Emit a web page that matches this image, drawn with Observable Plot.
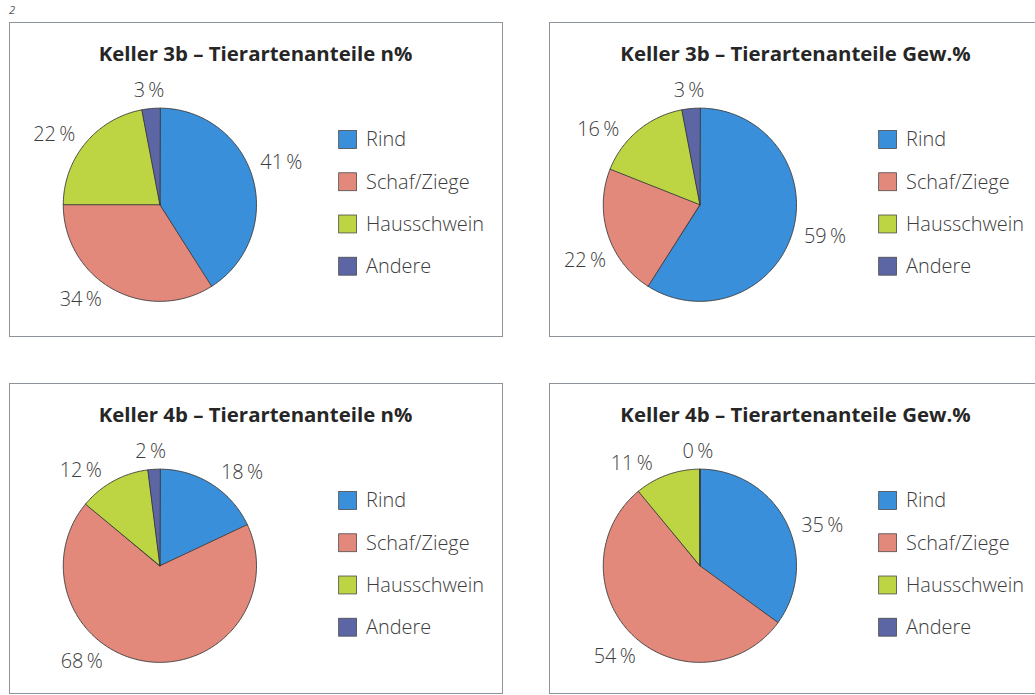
<!DOCTYPE html>
<html><head><meta charset="utf-8">
<script src="https://cdn.jsdelivr.net/npm/d3@7"></script>
<script src="https://cdn.jsdelivr.net/npm/@observablehq/plot@0.6"></script>
<style>
body{margin:0;background:#fff;}
#root{position:relative;width:1035px;height:695px;overflow:hidden;background:#fff;font-family:"Open Sans",sans-serif;}
.panel{position:absolute;box-sizing:border-box;border:1.5px solid #8d939a;background:#fff;}
.panel svg{display:block;}
.pagenum{position:absolute;left:9px;top:2px;font-size:11px;font-style:italic;color:#555;}
</style></head><body>
<div id="root"><div class="pagenum">2</div></div>
<script>
// ---- data ----
const categories = ["Rind", "Schaf/Ziege", "Hausschwein", "Andere"];
const titles = [
  "Keller 3b – Tierartenanteile n%",
  "Keller 3b – Tierartenanteile Gew.%",
  "Keller 4b – Tierartenanteile n%",
  "Keller 4b – Tierartenanteile Gew.%"
];
const keller3bCount  = [41, 34, 22, 3];
const keller3bWeight = [59, 22, 16, 3];
const keller4bCount  = [18, 68, 12, 2];
const keller4bWeight = [35, 54, 11, 0];

// ---- style / layout ----
const colors = ["#3a8fda", "#e2897c", "#bdd443", "#5d66a4"];
const panels = [
  {left: 9,   top: 22,  h: 315, values: keller3bCount,  title: titles[0], nudge: [-3, 11, -6, 0]},
  {left: 549, top: 22,  h: 315, values: keller3bWeight, title: titles[1], nudge: [-2, -8, -14, 0]},
  {left: 9,   top: 383, h: 311, values: keller4bCount,  title: titles[2], nudge: [9, 32, -11, -1]},
  {left: 549, top: 383, h: 311, values: keller4bWeight, title: titles[3], nudge: [9, 0, -14, -1]}
];
const W = 494, cx = 151, cy = 183, R = 97;
const legendX = 331, legendY0 = 118, legendDy = 42.4, sw = 18;

const root = document.getElementById("root");

panels.forEach(p => {
  const arcs = d3.pie().sort(null).value(v => v).startAngle(0).endAngle(2 * Math.PI)(p.values);
  const marks = [];
  // slices
  arcs.forEach((a, i) => {
    const pts = [{x: cx, y: cy}];
    const n = Math.max(2, Math.ceil((a.endAngle - a.startAngle) / (Math.PI / 180)));
    for (let k = 0; k <= n; k++) {
      const t = a.startAngle + (a.endAngle - a.startAngle) * k / n;
      pts.push({x: cx + R * Math.sin(t), y: cy - R * Math.cos(t)});
    }
    marks.push(Plot.line(pts, {x: "x", y: "y", curve: "linear-closed", fill: colors[i], stroke: "#3a3a3a", strokeWidth: 0.9}));
  });
  // percentage labels
  const labels = arcs.map((a, i) => {
    const t = (a.startAngle + a.endAngle) / 2 + p.nudge[i] * Math.PI / 180;
    const d = R + 17 + 16 * Math.abs(Math.sin(t));
    return {x: cx + d * Math.sin(t), y: cy - d * Math.cos(t), text: `${a.data}\u2009%`};
  });
  marks.push(Plot.text(labels, {x: "x", y: "y", text: "text", fontSize: 20, fill: "#3c3c3c", fontFamily: "Open Sans", fontWeight: 300}));
  // title
  marks.push(Plot.text([p.title], {frameAnchor: "top", lineAnchor: "middle", dy: 32, fontSize: 20.5, fontWeight: 700, fill: "#262626", fontFamily: "Open Sans"}));
  // legend
  marks.push(Plot.rect(categories, {
    x1: () => legendX, x2: () => legendX + sw,
    y1: (d, i) => legendY0 + i * legendDy - sw / 2, y2: (d, i) => legendY0 + i * legendDy + sw / 2,
    fill: d => d, stroke: "#4a4a4a", strokeWidth: 0.8
  }));
  marks.push(Plot.text(categories, {
    x: () => legendX + sw + 9, y: (d, i) => legendY0 + i * legendDy, text: d => d,
    textAnchor: "start", fontSize: 20, fill: "#3c3c3c", fontFamily: "Open Sans", fontWeight: 300
  }));

  const svg = Plot.plot({
    width: W, height: p.h,
    margin: 0,
    x: {domain: [0, W], range: [0, W], axis: null},
    y: {domain: [0, p.h], range: [0, p.h], axis: null},
    color: {domain: categories, range: colors},
    style: {background: "transparent", fontFamily: "Open Sans", overflow: "visible"},
    marks
  });
  const div = document.createElement("div");
  div.className = "panel";
  div.style.left = p.left + "px";
  div.style.top = p.top + "px";
  div.style.width = W + "px";
  div.style.height = p.h + "px";
  svg.style.marginLeft = "-1.5px";
  svg.style.marginTop = "-1.5px";
  div.appendChild(svg);
  root.appendChild(div);
});
</script>
</body></html>
